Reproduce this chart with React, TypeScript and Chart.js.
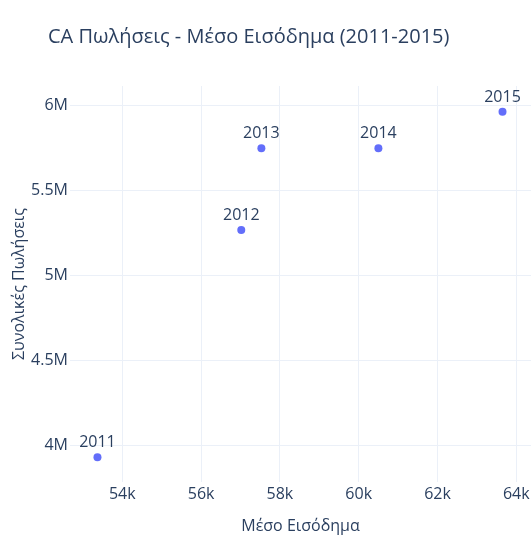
import React, { useEffect, useRef } from "react";
import { Chart, registerables } from "chart.js";

Chart.register(...registerables);

const titleText = "CA Πωλήσεις - Μέσο Εισόδημα (2011-2015)";
const xTitle = "Μέσο Εισόδημα";
const yTitle = "Συνολικές Πωλήσεις";

const years = ["2011", "2012", "2013", "2014", "2015"];
const income = [53370, 57020, 57530, 60500, 63650];
const sales = [3928000, 5265000, 5745000, 5745000, 5961000];

const xTickValues = [54000, 56000, 58000, 60000, 62000, 64000];
const xTickLabels = ["54k", "56k", "58k", "60k", "62k", "64k"];
const yTickValues = [4000000, 4500000, 5000000, 5500000, 6000000];
const yTickLabels = ["4M", "4.5M", "5M", "5.5M", "6M"];

const FONT = '"Open Sans", "Noto Sans", sans-serif';
const TEXT = "#2a3f5f";
const GRID = "#EBF0F8";
const MARK = "#636efa";

const titlePlugin = {
  id: "plotTitle",
  afterDraw(chart: any) {
    const ctx = chart.ctx;
    ctx.save();
    ctx.font = `20px ${FONT}`;
    ctx.fillStyle = TEXT;
    ctx.textAlign = "left";
    ctx.textBaseline = "alphabetic";
    ctx.fillText(titleText, 48, 43);
    ctx.restore();
  },
};

const pointLabelPlugin = {
  id: "pointLabels",
  afterDatasetsDraw(chart: any) {
    const ctx = chart.ctx;
    const meta = chart.getDatasetMeta(0);
    ctx.save();
    ctx.font = `16px ${FONT}`;
    ctx.fillStyle = TEXT;
    ctx.textAlign = "center";
    ctx.textBaseline = "alphabetic";
    meta.data.forEach((el: any, i: number) => {
      ctx.fillText(years[i], el.x, el.y - 10);
    });
    ctx.restore();
  },
};

export default function App() {
  const ref = useRef<HTMLCanvasElement | null>(null);

  useEffect(() => {
    if (!ref.current) return;
    const chart = new Chart(ref.current, {
      type: "scatter",
      data: {
        datasets: [
          {
            label: "Πωλήσεις",
            data: income.map((x, i) => ({ x, y: sales[i] })),
            backgroundColor: MARK,
            borderWidth: 0,
            pointRadius: 4,
            pointHoverRadius: 4,
          },
        ],
      },
      options: {
        animation: false,
        responsive: true,
        maintainAspectRatio: false,
        layout: { padding: { left: 0, top: 86, right: 69, bottom: 0 } },
        plugins: {
          legend: { display: false },
          tooltip: { enabled: false },
          title: { display: false },
        },
        scales: {
          x: {
            type: "linear",
            min: 52673,
            max: 64373,
            afterFit: (s: any) => {
              s.height = 63;
            },
            afterBuildTicks: (s: any) => {
              s.ticks = xTickValues.map((v) => ({ value: v }));
            },
            ticks: {
              callback: (v: any) => {
                const i = xTickValues.indexOf(Number(v));
                return i >= 0 ? xTickLabels[i] : "";
              },
              font: { family: FONT, size: 16 },
              color: TEXT,
              padding: 3,
              maxRotation: 0,
            },
            grid: { color: GRID, lineWidth: 1, drawTicks: false },
            border: { display: false },
            title: {
              display: true,
              text: xTitle,
              font: { family: FONT, size: 16 },
              color: TEXT,
              padding: { top: 0, bottom: 8.7 },
            },
          },
          y: {
            type: "linear",
            min: 3782400,
            max: 6111800,
            afterFit: (s: any) => {
              s.width = 70;
            },
            afterBuildTicks: (s: any) => {
              s.ticks = yTickValues.map((v) => ({ value: v }));
            },
            ticks: {
              callback: (v: any) => {
                const i = yTickValues.indexOf(Number(v));
                return i >= 0 ? yTickLabels[i] : "";
              },
              font: { family: FONT, size: 16 },
              color: TEXT,
              padding: 2,
            },
            grid: { color: GRID, lineWidth: 1, drawTicks: false },
            border: { display: false },
            title: {
              display: true,
              text: yTitle,
              font: { family: FONT, size: 16 },
              color: TEXT,
              padding: { top: 9.4, bottom: 0 },
            },
          },
        },
      },
      plugins: [titlePlugin, pointLabelPlugin],
    });
    return () => chart.destroy();
  }, []);

  return (
    <div
      style={{
        position: "fixed",
        left: 0,
        top: 0,
        width: 531,
        height: 545,
        overflow: "hidden",
        background: "#fff",
      }}
    >
      <div style={{ position: "relative", width: 600, height: 545 }}>
        <canvas ref={ref} />
      </div>
    </div>
  );
}
